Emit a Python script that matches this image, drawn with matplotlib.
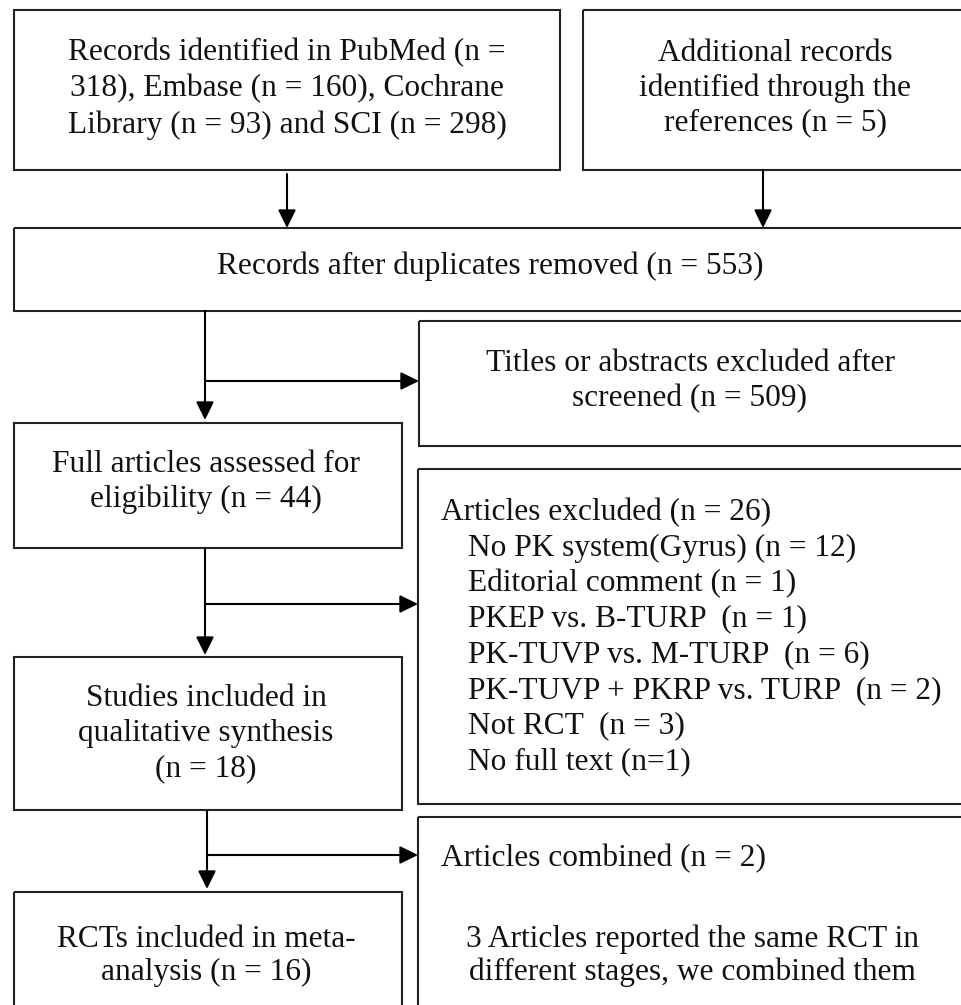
import matplotlib.pyplot as plt
from matplotlib.patches import Rectangle

# box texts
identified_text = ["Records identified in PubMed (n =",
                   "318), Embase (n = 160), Cochrane",
                   "Library (n = 93) and SCI (n = 298)"]
additional_text = ["Additional records", "identified through the", "references (n = 5)"]
dedup_text = ["Records after duplicates removed (n = 553)"]
screen_excl_text = ["Titles or abstracts excluded after", "screened (n = 509)"]
full_text = ["Full articles assessed for", "eligibility (n = 44)"]
excluded_head = "Articles excluded (n = 26)"
excluded_items = ["No PK system(Gyrus) (n = 12)",
                  "Editorial comment (n = 1)",
                  "PKEP vs. B-TURP  (n = 1)",
                  "PK-TUVP vs. M-TURP  (n = 6)",
                  "PK-TUVP + PKRP vs. TURP  (n = 2)",
                  "Not RCT  (n = 3)",
                  "No full text (n=1)"]
qual_text = ["Studies included in", "qualitative synthesis", "(n = 18)"]
combined_head = "Articles combined (n = 2)"
combined_note = ["3 Articles reported the same RCT in", "different stages, we combined them"]
meta_text = ["RCTs included in meta-", "analysis (n = 16)"]

W, H = 961, 1005
fig = plt.figure(figsize=(W / 100, H / 100), dpi=100)
ax = fig.add_axes([0, 0, 1, 1])
ax.set_xlim(0, W)
ax.set_ylim(H, 0)
ax.axis('off')

FONT = "Liberation Serif"
FS = 22.6
LW = 1.5


def box(x0, y0, x1, y1):
    ax.add_patch(Rectangle((x0, y0), x1 - x0, y1 - y0, fill=False,
                           edgecolor='#222222', lw=LW))


def centered(lines, cx, y_first, step=36):
    for i, s in enumerate(lines):
        ax.text(cx, y_first + i * step, s, ha='center', va='center',
                fontsize=FS, family=FONT, color='#111111')


def arrow(x0, y0, x1, y1):
    ax.annotate("", xy=(x1, y1), xytext=(x0, y0),
                arrowprops=dict(arrowstyle='-|>,head_length=0.55,head_width=0.27',
                                mutation_scale=20, lw=LW, color='black',
                                shrinkA=0, shrinkB=0))


# top row
box(14, 10, 560, 170)
centered(identified_text, 287, 53)
box(583, 10, 980, 170)
centered(additional_text, 775, 53, step=35)
arrow(287, 174, 287, 228)
arrow(763, 170, 763, 228)

# duplicates removed
box(14, 228, 980, 311)
centered(dedup_text, 490, 266)

# screening
arrow(205, 311, 205, 420)
arrow(205, 381, 419, 381)
box(419, 321, 980, 446)
centered(screen_excl_text, 690, 363)

box(14, 423, 402, 548)
centered(full_text, 206, 464, step=35)

# eligibility
arrow(205, 548, 205, 655)
arrow(205, 604, 418, 604)
box(418, 469, 980, 804)
ax.text(441, 513, excluded_head, ha='left', va='center', fontsize=FS,
        family=FONT, color='#111111')
for i, s in enumerate(excluded_items):
    ax.text(468, 548 + i * 35.6, s, ha='left', va='center', fontsize=FS,
            family=FONT, color='#111111')

box(14, 657, 402, 810)
centered(qual_text, 206, 698, step=35.5)

# combined
arrow(207, 811, 207, 889)
arrow(207, 855, 418, 855)
box(418, 817, 980, 1030)
ax.text(441, 859, combined_head, ha='left', va='center', fontsize=FS,
        family=FONT, color='#111111')
centered(combined_note, 692, 939, step=33)

box(14, 892, 402, 1030)
centered(meta_text, 206, 939, step=33)

fig.savefig("out.png", dpi=100)
